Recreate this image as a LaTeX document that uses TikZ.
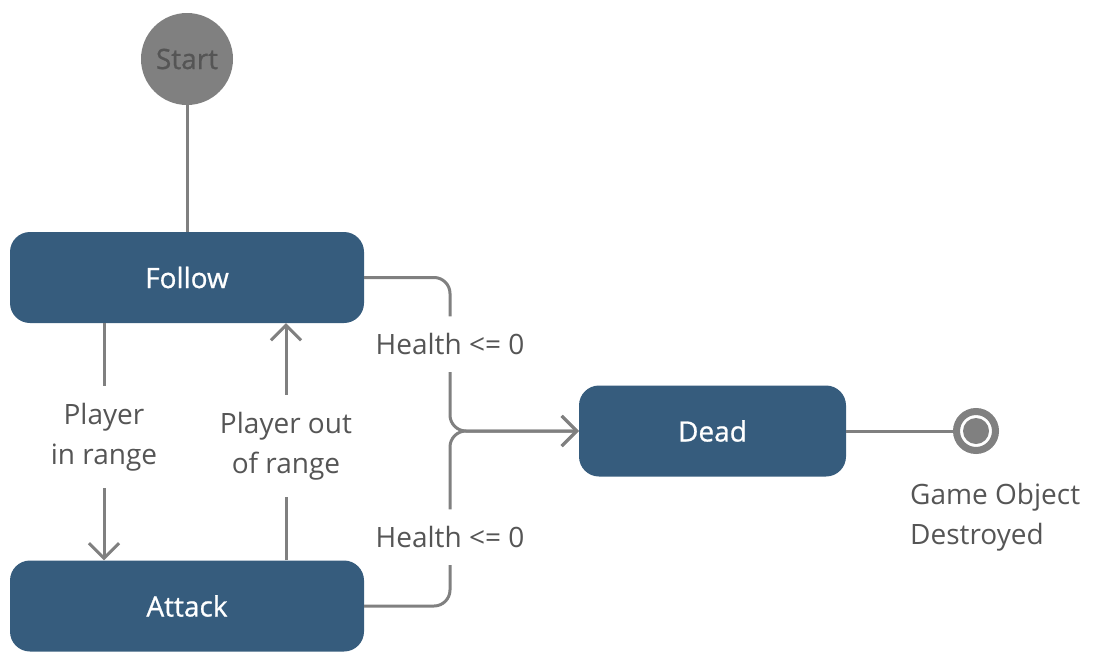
\documentclass[tikz,border=0pt]{standalone}
\usepackage{fontspec}
\setmainfont{Open Sans}
\newfontfamily\statefont{Open Sans}[FakeBold=0.8]
\usetikzlibrary{arrows.meta}

\definecolor{boxblue}{RGB}{54,92,125}
\definecolor{linegray}{RGB}{128,128,128}
\definecolor{textgray}{RGB}{85,85,85}

\begin{document}
\begin{tikzpicture}[x=1pt, y=-1pt,
    state/.style={fill=boxblue, rectangle, rounded corners=20pt, text=white, minimum height=91pt, font=\fontsize{28}{40}\statefont},
    trans/.style={draw=linegray, line width=3pt},
    arrowtip/.style={-{Straight Barb[length=15pt, width=30pt]}},
    guard/.style={fill=white, text=textgray, align=center, inner xsep=4pt, inner ysep=17pt},
    font=\fontsize{28}{40}\selectfont]
        \useasboundingbox (0,0) rectangle (1095,651);

        % Nodes
        \node (start) [circle, fill=linegray, text=textgray, minimum size=92pt, font=\fontsize{28}{40}\statefont] at (187,59) {Start};
        \node (follow) [state, minimum width=354pt] at (187,277.5) {Follow};
        \node (attack) [state, minimum width=354pt] at (187,606) {Attack};
        \node (dead) [state, minimum width=267pt] at (712.5,431) {Dead};
        \node (final) [circle, draw=linegray, line width=7pt, minimum size=39pt,
            path picture={\fill[linegray] (path picture bounding box.center) circle (13pt);}] at (976,431) {};
        \node (destroyed) [anchor=north west, align=left, inner sep=0pt, text=textgray] at (910,483) {Game Object\\Destroyed};
        \coordinate (merge) at (450,431);

        % Edges
        \draw[trans] (start) -- (follow);
        \draw[trans, arrowtip] ([xshift=-83pt]follow.south) -- node[guard, pos=0.48] {Player\\in range} ([xshift=-83pt]attack.north);
        \draw[trans, arrowtip] ([xshift=99pt]attack.north) -- node[guard, pos=0.483] {Player out\\of range} ([xshift=99pt]follow.south);
        \draw[trans, arrowtip, rounded corners=16pt] (follow.east) -| node[guard, pos=0.717] {Health <= 0} (merge) -- (dead.west);
        \draw[trans, arrowtip, rounded corners=16pt] (attack.east) -| node[guard, pos=0.697] {Health <= 0} (merge) -- (dead.west);
        \draw[trans] (dead) -- (final);
    \end{tikzpicture}
\end{document}
